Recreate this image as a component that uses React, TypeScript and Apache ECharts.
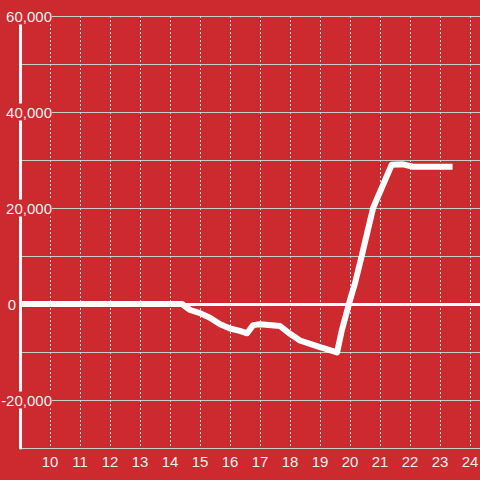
import React, { useEffect, useRef } from 'react';
import * as echarts from 'echarts';

const hours = [9, 14.4, 14.67, 15.0, 15.33, 15.67, 16.0, 16.33, 16.57, 16.77, 17.0, 17.67, 18.0, 18.33, 18.67, 19.0, 19.57, 19.73, 20.0, 20.17, 20.39, 20.77, 21.39, 21.77, 22.1, 23.42];
const values = [0, 0, -1250, -1900, -2850, -4200, -5100, -5600, -6100, -4400, -4200, -4600, -6200, -7600, -8300, -9000, -10100, -5400, 800, 4400, 10000, 20000, 29000, 29100, 28600, 28600];
const xTickLabels = [10, 11, 12, 13, 14, 15, 16, 17, 18, 19, 20, 21, 22, 23, 24];
const yLabelValues = [-20000, 0, 20000, 40000, 60000];

const RED = '#cc2a2f';
const TEXT = '#eeeeee';

export default function App() {
  const ref = useRef<HTMLDivElement>(null);
  useEffect(() => {
    document.body.style.margin = '0';
    const chart = echarts.init(ref.current!, null, { renderer: 'svg' });
    chart.setOption({
      animation: false,
      backgroundColor: RED,
      textStyle: { fontFamily: 'Liberation Sans, Arial, sans-serif' },
      grid: { left: 20, right: 0, top: 16, bottom: 32, containLabel: false, outerBoundsMode: 'none' },
      xAxis: {
        type: 'value',
        min: 9,
        max: 24.3333,
        interval: 1,
        axisLine: { show: true, lineStyle: { color: '#cccccc', width: 1 } },
        axisTick: { show: false },
        axisLabel: {
          margin: 6,
          color: TEXT,
          fontSize: 15,
          showMaxLabel: true,
          formatter: (v: number) => (xTickLabels.indexOf(v) >= 0 ? String(v) : ''),
        },
        splitLine: { show: true, lineStyle: { color: '#dddddd', width: 1, type: [2, 2] } },
      },
      yAxis: {
        type: 'value',
        min: -30000,
        max: 60000,
        interval: 10000,
        axisLine: { show: true, lineStyle: { color: '#ffffff', width: 3 } },
        axisTick: { show: false },
        axisLabel: {
          margin: -32,
          color: TEXT,
          fontSize: 15,
          formatter: (v: number) => {
            if (yLabelValues.indexOf(v) < 0) return '';
            if (v === 0) return '{z|0}';
            return '{a|' + v.toLocaleString('en-US') + '}';
          },
          rich: {
            a: { backgroundColor: RED, color: TEXT, fontSize: 15, padding: [1, 0, 1, 0] },
            z: { color: TEXT, fontSize: 15, padding: [0, 36, 0, 0] },
          },
        },
        splitLine: { show: true, lineStyle: { color: '#cccccc', width: 1 } },
      },
      series: [
        {
          type: 'line',
          data: hours.map((h, i) => [h, values[i]]),
          showSymbol: false,
          symbol: 'none',
          lineStyle: { color: '#ffffff', width: 6, cap: 'butt', join: 'round' },
          emphasis: { disabled: true },
          markLine: {
            silent: true,
            symbol: ['none', 'none'],
            label: { show: false },
            lineStyle: { color: '#ffffff', width: 3, type: 'solid' },
            data: [{ yAxis: 0 }],
          },
          z: 3,
        },
      ],
    });
    return () => chart.dispose();
  }, []);
  return <div ref={ref} style={{ position: 'fixed', left: 0, top: 0, width: 480, height: 480 }} />;
}
